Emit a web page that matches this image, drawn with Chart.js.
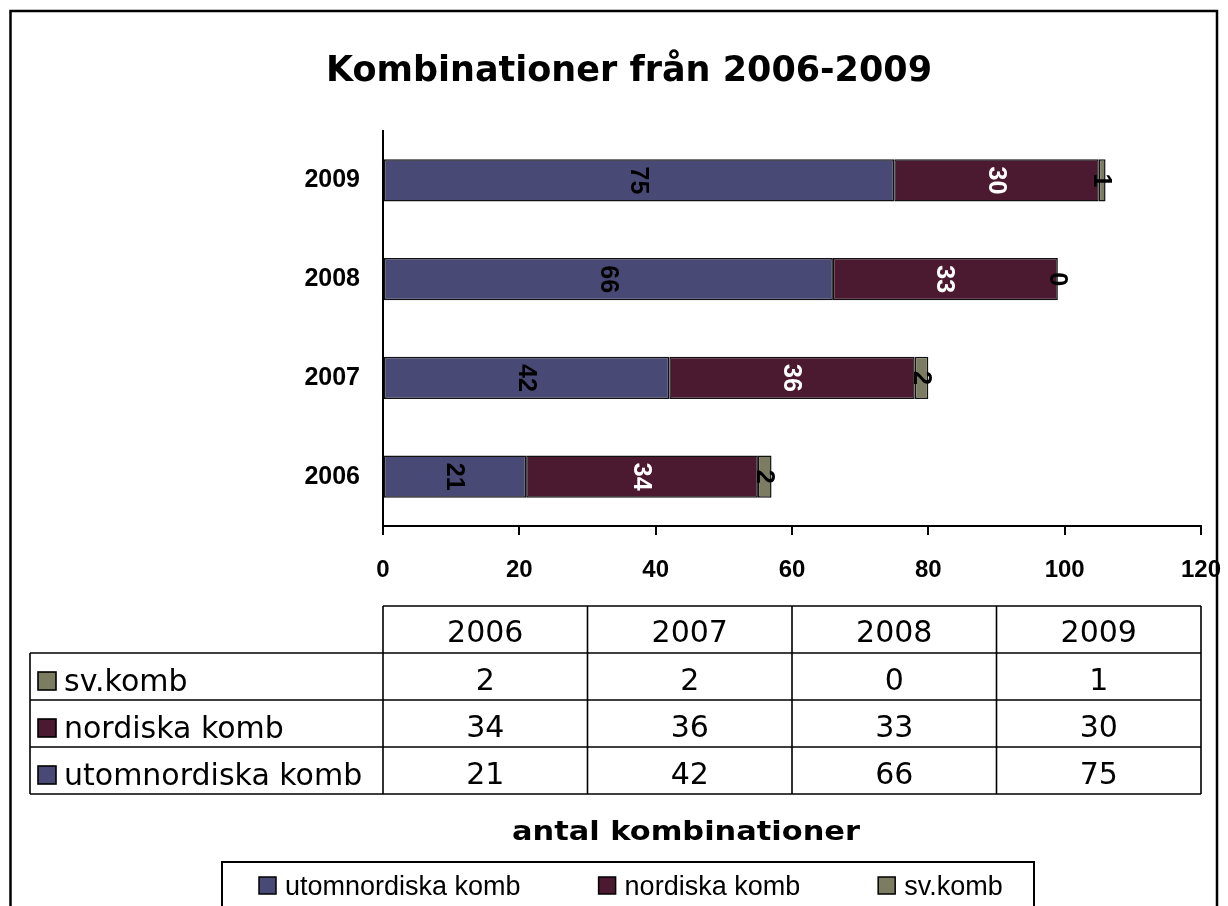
<!DOCTYPE html>
<html>
<head>
<meta charset="utf-8">
<script src="https://cdn.jsdelivr.net/npm/chart.js@4.4.1/dist/chart.umd.min.js"></script>
<style>
  body { margin: 0; background: #fff; }
  canvas { display: block; }
</style>
</head>
<body>
<canvas id="grafico" width="1228" height="906"></canvas>
<script>
// --- DATOS ---
const ar = ['2006', '2007', '2008', '2009'];
const utomnordiska = [21, 42, 66, 75];
const nordiska = [34, 36, 33, 30];
const svKomb = [2, 2, 0, 1];
const serier = ['utomnordiska komb', 'nordiska komb', 'sv.komb'];
const farger = ['#494975', '#4b1a30', '#7c7c62'];
const etikettFarger = ['#000', '#fff', '#000'];
const xTicks = [0, 20, 40, 60, 80, 100, 120];

const titel = 'Kombinationer från 2006-2009';
const axelTitel = 'antal kombinationer';

// etiketter inne i staplarna, roterade 90 grader
const stapelEtiketter = {
    id: 'stapelEtiketter',
    afterDatasetsDraw(chart) {
        const ctx = chart.ctx;
        ctx.save();
        ctx.font = 'bold 25px "Liberation Sans", Arial, sans-serif';
        ctx.textAlign = 'center';
        ctx.textBaseline = 'middle';
        chart.data.datasets.forEach((ds, i) => {
            const meta = chart.getDatasetMeta(i);
            meta.data.forEach((el, j) => {
                const cx = (el.x + el.base) / 2;
                ctx.save();
                ctx.translate(cx, el.y);
                ctx.rotate(Math.PI / 2);
                ctx.fillStyle = etikettFarger[i];
                ctx.fillText(String(ds.data[j]), 0, 1);
                ctx.restore();
            });
        });
        ctx.restore();
    }
};

// titel, datatabell, axeltitel och förklaring
const ram = {
    id: 'ram',
    afterDraw(chart) {
        const ctx = chart.ctx;
        const area = chart.chartArea;
        ctx.save();

        // yttre ram
        ctx.strokeStyle = '#000';
        ctx.lineWidth = 2.5;
        ctx.strokeRect(10.5, 11, 1206.5, 960);

        // titel
        ctx.fillStyle = '#000';
        ctx.font = 'bold 35px "DejaVu Sans", Verdana, sans-serif';
        ctx.textAlign = 'center';
        ctx.textBaseline = 'alphabetic';
        ctx.fillText(titel, 629, 81);

        // datatabell
        const x0 = area.left, x1 = area.right;
        const colW = (x1 - x0) / ar.length;
        const top = 606, rowH = 47, vanster = 30;
        const rader = [
            { namn: serier[2], data: svKomb, farg: farger[2] },
            { namn: serier[1], data: nordiska, farg: farger[1] },
            { namn: serier[0], data: utomnordiska, farg: farger[0] }
        ];
        const botten = top + rowH * (rader.length + 1);
        ctx.lineWidth = 1.6;
        ctx.beginPath();
        ctx.moveTo(x0, top); ctx.lineTo(x1, top);
        for (let r = 1; r <= rader.length + 1; r++) {
            ctx.moveTo(vanster, top + r * rowH); ctx.lineTo(x1, top + r * rowH);
        }
        for (let c = 0; c <= ar.length; c++) {
            ctx.moveTo(x0 + c * colW, top); ctx.lineTo(x0 + c * colW, botten);
        }
        ctx.moveTo(vanster, top + rowH); ctx.lineTo(vanster, botten);
        ctx.stroke();

        ctx.font = '30px "DejaVu Sans", Verdana, sans-serif';
        ctx.textAlign = 'center';
        ar.forEach((a, c) => ctx.fillText(a, x0 + (c + 0.5) * colW, top + 36));
        rader.forEach((rad, r) => {
            const y = top + (r + 1) * rowH;
            ctx.textAlign = 'center';
            rad.data.forEach((v, c) => ctx.fillText(String(v), x0 + (c + 0.5) * colW, y + 37));
            ctx.fillStyle = rad.farg;
            ctx.fillRect(38, y + 19, 18, 18);
            ctx.strokeRect(38, y + 19, 18, 18);
            ctx.fillStyle = '#000';
            ctx.textAlign = 'left';
            ctx.fillText(rad.namn, 64, y + 38);
        });

        // axeltitel
        ctx.font = 'bold 27px "DejaVu Sans", Verdana, sans-serif';
        const w = ctx.measureText(axelTitel).width;
        ctx.save();
        ctx.translate(686, 840);
        ctx.scale(348 / w, 1);
        ctx.textAlign = 'center';
        ctx.fillText(axelTitel, 0, 0);
        ctx.restore();

        // förklaring
        ctx.lineWidth = 2;
        ctx.strokeRect(222, 862, 812, 80);
        ctx.font = '27px "Liberation Sans", Arial, sans-serif';
        ctx.textAlign = 'left';
        let x = 259;
        serier.forEach((s, i) => {
            ctx.fillStyle = farger[i];
            ctx.fillRect(x, 877, 17, 17);
            ctx.lineWidth = 1.5;
            ctx.strokeRect(x, 877, 17, 17);
            ctx.fillStyle = '#000';
            ctx.fillText(s, x + 26, 895);
            x += 26 + ctx.measureText(s).width + 78;
        });

        ctx.restore();
    }
};

function skapaDataset(etikett, data, farg) {
    return {
        label: etikett,
        data: data,
        backgroundColor: farg,
        borderColor: '#111',
        borderWidth: 1.5,
        borderSkipped: false,
        barPercentage: 0.43,
        categoryPercentage: 1
    };
}

const grafico = new Chart(document.getElementById('grafico').getContext('2d'), {
    type: 'bar',
    data: {
        labels: ar,
        datasets: [
            skapaDataset(serier[0], utomnordiska, farger[0]),
            skapaDataset(serier[1], nordiska, farger[1]),
            skapaDataset(serier[2], svKomb, farger[2])
        ]
    },
    options: {
        indexAxis: 'y',
        responsive: false,
        animation: false,
        layout: { padding: { left: 0, top: 131, right: 27, bottom: 0 } },
        plugins: {
            legend: { display: false },
            title: { display: false },
            tooltip: { enabled: false }
        },
        scales: {
            x: {
                stacked: true,
                min: 0,
                max: 120,
                afterFit: (s) => { s.height = 380; s.paddingLeft = 0; s.paddingRight = 0; },
                afterBuildTicks: (s) => { s.ticks = xTicks.map(v => ({ value: v })); },
                grid: { display: true, drawOnChartArea: false, drawTicks: true, tickLength: 9, color: '#000', lineWidth: 2 },
                border: { display: true, color: '#000', width: 2 },
                ticks: { color: '#000', padding: 21, font: { family: '"Liberation Sans", Arial, sans-serif', size: 24, weight: 'bold' } }
            },
            y: {
                stacked: true,
                reverse: true,
                afterFit: (s) => { s.width = 383; s.paddingTop = 0; s.paddingBottom = 0; },
                grid: { display: false, drawTicks: false },
                border: { display: true, color: '#000', width: 2 },
                ticks: { color: '#000', padding: 23, font: { family: '"Liberation Sans", Arial, sans-serif', size: 25, weight: 'bold' } }
            }
        }
    },
    plugins: [stapelEtiketter, ram]
});
</script>
</body>
</html>
